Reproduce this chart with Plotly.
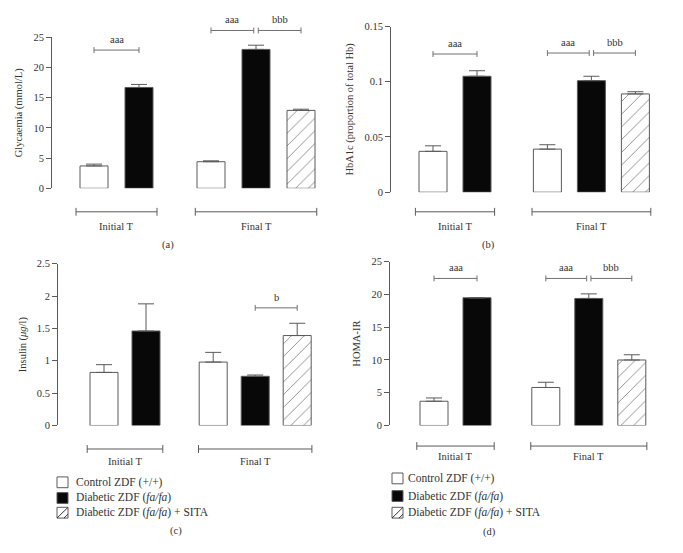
import plotly.graph_objects as go

W, H = 683, 553

periods = ["Initial T", "Final T"]
group_names = [
    "Control ZDF (+/+)",
    "Diabetic ZDF (<i>fa/fa</i>)",
    "Diabetic ZDF (<i>fa/fa</i>) + SITA",
]

# bar slots: control and diabetic at both times, SITA only at final time
pos_control = [0, 2.6]
pos_diabetic = [1, 3.6]
pos_sita = [4.6]

glyc_control = [3.7, 4.4]
glyc_control_sem = [0.3, 0.15]
glyc_diabetic = [16.7, 23.0]
glyc_diabetic_sem = [0.5, 0.7]
glyc_sita = [12.9]
glyc_sita_sem = [0.2]

hba1c_control = [0.037, 0.039]
hba1c_control_sem = [0.005, 0.004]
hba1c_diabetic = [0.105, 0.101]
hba1c_diabetic_sem = [0.005, 0.004]
hba1c_sita = [0.089]
hba1c_sita_sem = [0.002]

insulin_control = [0.82, 0.98]
insulin_control_sem = [0.12, 0.15]
insulin_diabetic = [1.46, 0.76]
insulin_diabetic_sem = [0.42, 0.02]
insulin_sita = [1.39]
insulin_sita_sem = [0.19]

homa_control = [3.7, 5.8]
homa_control_sem = [0.5, 0.8]
homa_diabetic = [19.5, 19.4]
homa_diabetic_sem = [0.0, 0.7]
homa_sita = [10.0]
homa_sita_sem = [0.8]

FONT = "Liberation Serif"
TXT = "#333333"
LINE = "#5a5a5a"


def px(x):
    return x / W


def py(y):
    return 1 - y / H


# panel geometry in pixels (axis x, right edge, top, bottom, px per slot, slot-0 centre)
panels = [
    dict(tag="(a)", title="Glycaemia (mmol/L)", ymax=25, dtick=5,
         data=(glyc_control, glyc_control_sem, glyc_diabetic, glyc_diabetic_sem, glyc_sita, glyc_sita_sem),
         left=52, right=325, top=33, bottom=187, u=45, x0=94,
         group_y=211, label_y=226, tag_xy=(160, 245),
         sig=[(0, 1, "aaa", 46), (2.6, 3.55, "aaa", 26), (3.65, 4.6, "bbb", 26)]),
    dict(tag="(b)", title="HbA1c (proportion of total Hb)", ymax=0.15, dtick=0.05,
         data=(hba1c_control, hba1c_control_sem, hba1c_diabetic, hba1c_diabetic_sem, hba1c_sita, hba1c_sita_sem),
         left=391, right=660, top=22, bottom=191, u=44, x0=433,
         group_y=211, label_y=226, tag_xy=(497, 245),
         sig=[(0, 1, "aaa", 50), (2.6, 3.55, "aaa", 49), (3.65, 4.6, "bbb", 49)]),
    dict(tag="(c)", title="Insulin (<i>μg</i>/l)", ymax=2.5, dtick=0.5,
         data=(insulin_control, insulin_control_sem, insulin_diabetic, insulin_diabetic_sem, insulin_sita, insulin_sita_sem),
         left=58, right=330, top=264, bottom=429, u=42, x0=104,
         group_y=453, label_y=466, tag_xy=(168, 537),
         sig=[(3.6, 4.6, "b", 309)],
         legend=dict(box_x=57, text_x=74, rows=[487, 503, 518])),
    dict(tag="(d)", title="HOMA-IR", ymax=25, dtick=5,
         data=(homa_control, homa_control_sem, homa_diabetic, homa_diabetic_sem, homa_sita, homa_sita_sem),
         left=390, right=660, top=262, bottom=429, u=43, x0=434,
         group_y=450, label_y=461, tag_xy=(498, 538),
         sig=[(0, 1, "aaa", 279), (2.6, 3.55, "aaa", 279), (3.65, 4.6, "bbb", 279)],
         legend=dict(box_x=392, text_x=406, rows=[483, 501, 518])),
]

group_spans = [(-0.4, 1.4), (2.25, 4.95)]

fig = go.Figure()
shapes = []
annotations = []
layout = {}

for i, p in enumerate(panels):
    s = "" if i == 0 else str(i + 1)
    xa, ya = "x" + s, "y" + s
    ctrl, ctrl_e, diab, diab_e, sita, sita_e = p["data"]
    bw = 28 / p["u"]

    def err(vals):
        return dict(type="data", symmetric=False, array=vals, arrayminus=[0] * len(vals),
                    color=LINE, thickness=1, width=8)

    fig.add_trace(go.Bar(x=pos_control, y=ctrl, width=bw, error_y=err(ctrl_e),
                         marker=dict(color="white", line=dict(color=LINE, width=1)),
                         xaxis=xa, yaxis=ya, showlegend=False))
    fig.add_trace(go.Bar(x=pos_diabetic, y=diab, width=bw, error_y=err(diab_e),
                         marker=dict(color="#080808", line=dict(color=LINE, width=1)),
                         xaxis=xa, yaxis=ya, showlegend=False))
    fig.add_trace(go.Bar(x=pos_sita, y=sita, width=bw, error_y=err(sita_e),
                         marker=dict(color="white", line=dict(color=LINE, width=1),
                                     pattern=dict(shape="/", fgcolor="#111", bgcolor="white",
                                                  size=9, solidity=0.1)),
                         xaxis=xa, yaxis=ya, showlegend=False))

    r0 = (p["left"] - p["x0"]) / p["u"]
    r1 = (p["right"] - p["x0"]) / p["u"]
    layout["xaxis" + s] = dict(domain=[px(p["left"]), px(p["right"])], range=[r0, r1],
                               anchor=ya, showline=False, showticklabels=False,
                               showgrid=False, zeroline=False, ticks="")
    layout["yaxis" + s] = dict(domain=[py(p["bottom"]), py(p["top"])], range=[0, p["ymax"]],
                               anchor=xa, dtick=p["dtick"], showline=True, linecolor=LINE,
                               linewidth=1, ticks="outside", ticklen=5, tickcolor=LINE,
                               showgrid=False, zeroline=False,
                               tickfont=dict(family=FONT, size=10.5, color=TXT),
                               title=dict(text=p["title"], font=dict(family=FONT, size=10.5, color=TXT),
                                          standoff=8))

    # significance brackets
    for a, b, lab, yb in p["sig"]:
        y = py(yb)
        shapes.append(dict(type="line", xref=xa, yref="paper", x0=a, x1=b, y0=y, y1=y,
                           line=dict(color="#707070", width=1)))
        for xe in (a, b):
            shapes.append(dict(type="line", xref=xa, yref="paper", x0=xe, x1=xe,
                               y0=py(yb - 3), y1=py(yb + 3), line=dict(color="#707070", width=1)))
        annotations.append(dict(text=lab, xref=xa, yref="paper", x=(a + b) / 2, y=py(yb - 11),
                                showarrow=False, yanchor="middle",
                                font=dict(family=FONT, size=10.5, color=TXT)))

    # time-point group lines
    for (a, b), lab in zip(group_spans, periods):
        y = py(p["group_y"])
        shapes.append(dict(type="line", xref=xa, yref="paper", x0=a, x1=b, y0=y, y1=y,
                           line=dict(color=LINE, width=1)))
        for xe in (a, b):
            shapes.append(dict(type="line", xref=xa, yref="paper", x0=xe, x1=xe,
                               y0=py(p["group_y"] - 4), y1=py(p["group_y"] + 4),
                               line=dict(color=LINE, width=1)))
        annotations.append(dict(text=lab, xref=xa, yref="paper", x=(a + b) / 2, y=py(p["label_y"]),
                                showarrow=False, yanchor="middle",
                                font=dict(family=FONT, size=10.5, color=TXT)))

    annotations.append(dict(text=p["tag"], xref="paper", yref="paper", x=px(p["tag_xy"][0]),
                            y=py(p["tag_xy"][1]), showarrow=False, yanchor="middle",
                            font=dict(family=FONT, size=10.5, color=TXT)))

    # hand-drawn legend under panels (c) and (d)
    if "legend" in p:
        lg = p["legend"]
        for k, (name, row) in enumerate(zip(group_names, lg["rows"])):
            bx0, bx1 = lg["box_x"], lg["box_x"] + 11
            by0, by1 = row - 5.5, row + 5.5
            shapes.append(dict(type="rect", xref="paper", yref="paper",
                               x0=px(bx0), x1=px(bx1), y0=py(by1), y1=py(by0),
                               fillcolor="#080808" if k == 1 else "white",
                               line=dict(color=LINE, width=1)))
            if k == 2:
                shapes.append(dict(type="line", xref="paper", yref="paper",
                                   x0=px(bx0), y0=py(by1), x1=px(bx1), y1=py(by0),
                                   line=dict(color="#333", width=1)))
                shapes.append(dict(type="line", xref="paper", yref="paper",
                                   x0=px(bx1 - 4), y0=py(by1), x1=px(bx1), y1=py(by1 - 4),
                                   line=dict(color="#333", width=1)))
            annotations.append(dict(text=name, xref="paper", yref="paper", x=px(lg["text_x"]),
                                    y=py(row), xanchor="left", yanchor="middle", showarrow=False,
                                    font=dict(family=FONT, size=11.5, color=TXT)))

fig.update_layout(
    width=W,
    height=H,
    margin=dict(l=0, r=0, t=0, b=0),
    paper_bgcolor="white",
    plot_bgcolor="white",
    barmode="overlay",
    showlegend=False,
    shapes=shapes,
    annotations=annotations,
    **layout,
)

# drop the page's default body margin so the figure sits at the window origin
fig.write_html(
    "out.html",
    config={"displayModeBar": False},
    post_script="document.body.style.margin = '0';",
)
